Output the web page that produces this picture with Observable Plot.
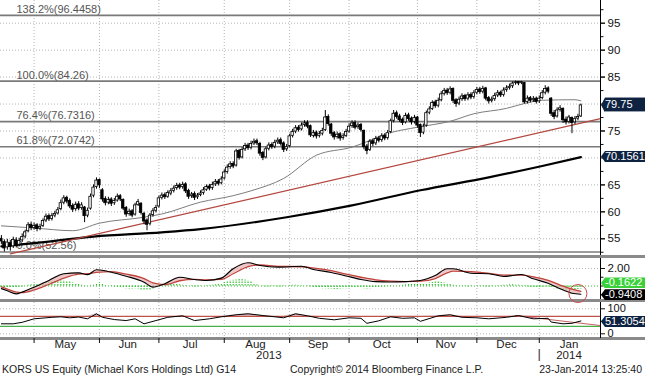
<!DOCTYPE html>
<html><head><meta charset="utf-8">
<script src="https://cdn.jsdelivr.net/npm/d3@7"></script>
<script src="https://cdn.jsdelivr.net/npm/@observablehq/plot@0.6"></script>
<style>
body{margin:0;background:#fff;}
#wrap{position:relative;width:645px;height:376px;overflow:hidden;background:#fff;font-family:"Liberation Sans Narrow","Liberation Sans",Arial,sans-serif;}
#wrap svg{position:absolute;left:0;overflow:visible;}
.sep{position:absolute;left:0;width:645px;height:3px;background:#8a8a8a;}
.foot{position:absolute;top:363px;font-size:10.5px;line-height:13px;color:#1a1a1a;white-space:nowrap;}
.tag{position:absolute;left:601px;width:44px;height:11px;line-height:11px;font-size:11px;padding-left:4px;box-sizing:border-box;clip-path:polygon(4px 0,100% 0,100% 100%,4px 100%,0 50%);white-space:nowrap;overflow:hidden;}
</style></head>
<body><div id="wrap"></div>
<script>
// ---------- categories ----------
const startDate = "2013-04-16", axisEndDate = "2014-01-31";
const holidays = ["2013-05-27","2013-07-04","2013-09-02","2013-11-28","2013-12-25","2014-01-01","2014-01-20"];

// ---------- daily OHLC (KORS) ----------
const open = [55.0,54.4,53.4,54.2,53.6,54.7,53.9,54.7,55.4,56.4,
57.6,57.0,57.5,56.9,57.4,58.4,59.2,58.7,59.3,59.7,
60.5,61.7,62.6,62.0,61.1,60.5,61.4,60.7,60.8,59.3,
60.6,63.0,64.6,65.9,64.0,62.4,61.7,62.3,61.6,62.1,
62.9,62.2,60.7,59.6,60.1,59.5,61.3,61.5,59.6,58.4,
57.8,59.4,60.2,61.0,62.6,63.1,62.8,63.4,63.9,64.4,
64.9,64.6,65.1,63.9,62.9,63.3,62.7,63.1,63.5,64.1,
64.7,64.4,65.1,65.6,65.3,66.2,67.4,68.3,68.9,68.6,
71.3,70.1,71.6,72.3,71.9,72.7,73.1,72.6,70.9,70.1,
71.7,72.4,72.1,72.9,73.3,72.7,71.6,72.2,74.1,74.9,
75.6,75.3,76.1,76.5,75.9,74.1,74.7,74.1,74.5,75.2,
77.6,76.2,74.6,73.9,74.4,73.7,74.1,74.9,75.9,76.5,
75.7,76.1,75.0,72.1,71.5,73.1,72.7,73.6,73.3,74.1,
73.7,74.8,76.9,78.3,77.7,77.1,76.6,77.9,77.3,76.7,
77.5,76.1,74.7,76.0,78.4,79.1,80.3,79.7,80.7,81.9,
82.5,82.1,82.8,80.7,80.1,80.9,81.5,81.0,81.7,81.3,
82.1,82.7,82.3,82.9,81.1,80.6,80.9,81.6,82.1,81.7,
82.6,83.0,83.3,83.9,84.1,83.9,83.9,80.4,81.1,80.7,
81.0,80.5,81.1,82.1,82.9,81.0,78.3,77.7,78.9,79.1,
77.1,76.7,77.4,76.6,77.3,77.7];
const high = [55.6,54.8,54.9,54.7,55.3,55.2,55.1,55.9,56.6,58.0,
58.1,57.9,57.8,57.7,58.7,59.6,59.6,59.7,60.1,60.8,
62.2,63.0,62.9,62.4,61.5,61.8,61.9,61.7,61.0,60.7,
63.3,65.0,66.3,66.1,64.3,62.8,62.7,62.6,62.5,63.3,
63.2,62.4,61.0,60.5,60.4,61.6,62.3,61.7,59.9,58.7,
59.7,60.6,61.2,62.9,63.5,63.5,63.9,64.3,64.8,65.3,
65.3,65.5,65.4,64.2,63.6,63.7,63.4,63.9,64.5,65.0,
65.1,65.5,66.0,66.0,66.5,67.8,68.7,69.3,69.3,71.6,
71.6,71.9,72.7,72.7,73.1,73.5,73.5,72.9,71.2,72.0,
72.8,72.8,73.3,73.7,73.7,73.0,72.5,74.4,75.3,76.0,
76.0,76.5,76.9,76.9,76.1,75.1,75.0,74.9,75.5,78.8,
78.0,76.4,74.9,74.8,74.7,74.5,75.3,76.3,76.9,76.9,
76.5,76.4,75.2,72.5,73.4,73.5,74.0,74.0,74.5,74.5,
75.1,77.2,78.8,78.7,78.1,77.4,78.3,78.3,77.6,77.9,
77.7,76.3,76.3,78.7,79.5,80.6,80.7,81.1,82.3,82.9,
82.9,83.2,83.0,81.0,81.3,81.9,81.8,82.1,82.1,82.5,
83.1,83.1,83.3,83.1,81.4,81.3,82.0,82.5,82.4,83.0,
83.4,83.7,84.1,84.26,84.2,84.2,84.0,81.5,81.4,81.4,
81.3,81.5,82.5,83.4,83.2,81.2,78.8,79.3,79.7,79.3,
77.6,77.9,77.6,77.7,78.1,80.0];
const low = [53.9,52.56,52.9,52.7,53.2,53.3,53.5,54.3,55.0,56.1,
56.5,56.6,56.3,56.5,57.1,58.0,58.2,58.3,58.9,59.4,
60.2,61.3,61.5,60.6,59.9,60.1,60.2,60.3,58.0,58.9,
60.3,62.6,64.2,64.3,61.8,61.1,61.3,61.0,61.2,61.8,
61.9,60.2,59.0,59.2,58.9,59.2,61.0,59.4,57.6,56.5,
57.4,59.0,59.8,60.7,62.2,62.3,62.5,63.0,63.5,64.0,
64.1,64.2,63.4,62.3,62.5,62.1,62.3,62.8,63.1,63.8,
63.9,64.0,64.7,64.8,65.0,65.9,67.0,67.9,68.0,68.3,
69.6,69.8,71.2,71.4,71.5,72.3,72.3,70.3,69.5,69.8,
71.3,71.6,71.7,72.5,72.2,71.0,71.2,71.9,73.7,74.5,
74.8,75.0,75.7,75.4,73.8,73.7,73.5,73.7,74.1,74.9,
75.9,74.0,73.3,73.5,73.1,73.3,73.8,74.6,75.5,75.2,
75.3,74.8,71.5,70.6,71.2,72.1,72.3,72.8,72.9,73.2,
73.3,74.5,76.5,77.2,76.6,76.0,76.3,76.8,76.1,76.3,
75.5,73.8,74.3,75.7,78.0,78.8,79.2,79.3,80.4,81.5,
81.6,81.7,80.1,79.4,79.7,80.5,80.5,80.6,80.8,80.9,
81.7,81.8,81.9,80.6,80.0,80.2,80.5,81.2,81.2,81.3,
82.2,82.6,82.9,83.5,83.4,83.6,80.0,80.0,80.2,80.3,
80.0,80.1,80.8,81.7,81.9,77.7,77.1,77.4,78.5,76.4,
76.1,76.3,74.5,76.2,76.9,77.5];
const close = [54.5,53.2,54.3,53.5,54.8,53.8,54.6,55.3,56.2,57.5,
57.0,57.4,56.8,57.2,58.3,59.1,58.6,59.2,59.6,60.3,
61.6,62.5,61.9,61.0,60.4,61.3,60.6,61.2,59.2,60.2,
62.8,64.5,65.8,64.9,62.3,61.6,62.2,61.5,62.0,62.8,
62.3,60.6,59.5,60.0,59.3,61.2,61.8,59.8,58.2,57.6,
59.3,60.1,60.7,62.5,63.0,62.7,63.5,63.8,64.3,64.8,
64.5,65.0,63.8,62.8,63.2,62.6,63.0,63.4,64.0,64.6,
64.3,65.0,65.5,65.2,66.0,67.3,68.2,68.8,68.4,71.2,
70.0,71.5,72.2,71.8,72.6,73.0,72.7,70.8,70.0,71.6,
72.3,72.0,72.8,73.2,72.6,71.5,72.0,74.0,74.8,75.5,
75.2,76.0,76.4,75.8,74.2,74.6,74.0,74.4,75.0,77.5,
76.3,74.5,73.8,74.3,73.6,74.0,74.8,75.8,76.4,75.6,
76.0,75.2,72.0,71.3,73.0,72.6,73.5,73.2,74.0,73.6,
74.6,76.8,78.2,77.6,77.0,76.5,77.8,77.2,76.6,77.4,
76.0,74.6,75.8,78.3,79.0,80.2,79.6,80.6,81.8,82.4,
82.0,82.7,80.6,80.0,80.8,81.4,80.9,81.6,81.2,82.0,
82.6,82.2,82.8,81.0,80.5,80.8,81.5,82.0,81.6,82.5,
82.9,83.2,83.8,84.0,83.8,84.1,80.3,81.0,80.6,80.9,
80.4,81.0,82.0,82.8,82.3,78.2,77.6,78.8,79.2,77.0,
76.6,77.5,76.5,77.2,77.6,79.75];

// ---------- overlays (trading-day index, value) ----------
const ma50Idx = [0,11,24,33,48,54,67,78,84,95,106,118,131,140,151,159,170,176,182,193,195];
const ma50    = [57.4,57.0,56.5,57.9,59.0,59.6,61.8,63.0,63.9,66.2,70.5,72.0,74.7,75.7,76.8,78.2,79.2,80.1,80.7,80.8,80.6];
const ma200Idx = [0,11,31,54,67,96,118,141,164,182,195];
const ma200    = [53.6,54.2,55.4,56.2,56.8,59.0,61.2,64.0,66.4,68.5,70.1561];
const trendIdx = [3,201.6];
const trendVal = [52.2,77.3];
const fibPct = ["138.2%","100.0%","76.4%","61.8%","0.0%"];
const fibVal = [96.4458,84.26,76.7316,72.0742,52.56];
const priceLabelTicks = [55,60,65,75,85,90,95];   // 70 and 80 sit under the value tags
const priceTicks = [55,60,65,70,75,80,85,90,95];
const priceMinor = [52.5,57.5,62.5,67.5,72.5,77.5,82.5,87.5,92.5,97.5];

// ---------- MACD panel ----------
const macdIdx = [0,2,5,7,11,16,21,26,29,32,37,42,48,51,55,60,65,69,74,78,83,87,93,101,105,111,116,121,126,131,136,141,146,150,152,158,164,169,175,179,184,188,192,195];
const macd   = [-0.3,-0.55,-0.9,-0.7,-0.13,0.63,1.4,1.5,1.3,1.85,1.58,1.12,0.44,-0.13,0.25,1.0,0.74,0.63,0.9,1.97,2.65,2.34,2.15,2.26,1.89,1.55,1.15,0.75,0.5,0.45,0.5,0.63,1.2,1.97,1.97,1.46,1.4,1.09,1.31,0.82,0.32,-0.32,-0.82,-0.94];
const signal = [-0.1,-0.35,-0.7,-0.75,-0.45,0.2,0.9,1.35,1.4,1.55,1.65,1.35,0.85,0.35,0.15,0.6,0.75,0.7,0.75,1.4,2.2,2.4,2.25,2.2,2.05,1.75,1.35,1.0,0.7,0.55,0.5,0.55,0.85,1.5,1.7,1.65,1.45,1.25,1.25,1.05,0.65,0.1,-0.35,-0.6];
const hist = [-0.15,-0.2,-0.2,-0.25,-0.2,-0.2,
-0.15,-0.1,0,
0.1,0.15,0.2,0.25,0.3,0.35,0.4,0.45,0.5,0.55,0.6,
0.65,0.6,0.55,0.45,0.35,0.3,0.2,0.1,
0.05,0,0.05,0.1,
0.3,0.35,0.2,
0.05,0,-0.05,
-0.1,-0.15,-0.2,-0.25,-0.3,-0.35,-0.35,-0.3,-0.35,-0.45,-0.5,-0.55,-0.5,-0.35,-0.2,
-0.05,0.05,0.1,0.15,0.2,0.25,0.2,0.15,
0.1,0.05,0,-0.05,-0.1,-0.1,-0.05,0,0.05,0.05,0.1,0.15,
0.2,0.3,0.4,0.5,0.6,0.65,0.7,0.75,0.75,0.7,0.6,0.45,0.3,0.15,
0,-0.05,-0.1,-0.1,-0.05,-0.05,-0.1,-0.1,-0.05,
0,0.05,0.1,0.1,0.05,0.05,0,-0.05,-0.1,
-0.15,-0.2,-0.25,-0.3,-0.3,-0.35,-0.35,-0.4,-0.4,-0.35,-0.3,-0.3,-0.25,-0.25,-0.2,-0.2,-0.25,-0.3,-0.35,-0.3,-0.25,-0.2,-0.15,-0.1,-0.1,-0.05,-0.05,0,0,0.05,0.1,
0.15,0.2,0.25,0.25,0.2,0.2,0.25,0.3,0.35,0.4,0.45,0.45,0.4,0.35,0.3,0.2,0.1,0.05,
0,-0.05,-0.05,-0.1,-0.05,0,0,-0.05,-0.05,-0.1,-0.1,-0.05,
0,0.05,0.05,0.1,0.1,0.15,0.15,0.1,0.1,0.05,
-0.05,-0.1,-0.15,-0.15,-0.2,-0.2,-0.15,-0.1,-0.1,-0.2,-0.3,-0.35,-0.4,-0.45,-0.5,-0.5,-0.5,-0.45,-0.4,-0.35];
const macdTicks = [2];
const macdMinor = [1,0,-1];
const circleIdx = [194], circleVal = [-0.86];

// ---------- RSI panel ----------
const rsiIdx = [0,4,7,11,17,20,23,26,29,32,34,38,42,45,48,52,56,61,65,70,74,79,83,88,92,95,99,103,107,112,117,121,123,127,131,135,139,141,147,151,155,160,164,170,174,179,184,185,189,192,195];
const rsi    = [40,40,46,60,66,68,64,67,60,80,66,57,53,60,40,53,66,72,53,60,68,76,80,73,68,64,80,72,62,56,64,62,42,52,68,62,64,50,72,76,66,64,60,66,73,60,62,47,40,42,51.3054];
const rsiTrendIdx = [173,201.6], rsiTrendVal = [73,33];
const rsiBands = [70,30];
const rsiTicks = [100, 0];

// ---------- last-value tags ----------
const lastPrice = 79.75, lastMA200 = 70.1561, lastMacd = -0.9408, lastSignal = -0.1622, lastRsi = 51.3054;

// ---------- build ----------
const fmt = d3.utcFormat("%Y-%m-%d");
const days = d3.utcDay.range(new Date(startDate), d3.utcDay.offset(new Date(axisEndDate), 1))
  .filter(d => d.getUTCDay() % 6 !== 0 && !holidays.includes(fmt(d)));
const xDomain = [-0.3, days.length - 1 + 0.6];
const dayIdx = days.map((d, i) => ({d, i}));
const months = d3.groups(dayIdx, e => d3.utcFormat("%Y-%m")(e.d))
  .map(([k, v]) => ({name: d3.utcFormat("%b")(v[0].d), start: v[0].i, mid: d3.mean(v, e => e.i)}))
  .filter(m => m.start > 0);
const monthStarts = months.map(m => m.start);
const years = d3.groups(dayIdx, e => e.d.getUTCFullYear())
  .map(([k, v]) => ({name: String(k), start: v[0].i, mid: d3.mean(v, e => e.i)}));
const yearBreaks = years.filter(y => y.start > 0).map(y => y.start);

const bars = close.map((c, i) => ({i, o: open[i], h: high[i], l: low[i], c}));
const pts = (idx, val) => idx.map((i, k) => ({i, v: val[k]}));
const fibs = fibVal.map((v, k) => ({v, label: `${fibPct[k]}(${v})`}));
const macdPts = macdIdx.map((i, k) => ({i, m: macd[k], s: signal[k]}));
const histPts = hist.map((v, i) => ({i, v}));
const rsiPts = pts(rsiIdx, rsi);

const FONT = '"Liberation Sans Narrow","Liberation Sans",Arial,sans-serif';
const style = {background: "transparent", fontFamily: FONT, fontSize: "11.5px", color: "#111", overflow: "visible"};
const dotted = {stroke: "#b5b5b5", strokeDasharray: "1,2"};

const wrap = document.getElementById("wrap");
function place(el, top) { el.style.top = top + "px"; wrap.appendChild(el); return el; }
function sep(top) { const d = document.createElement("div"); d.className = "sep"; d.style.top = top + "px"; wrap.appendChild(d); }

sep(255); sep(299); sep(337);

// Panel 1: price
const p1 = Plot.plot({
  width: 645, height: 255, marginLeft: 0, marginRight: 45, marginTop: 0, marginBottom: 0,
  x: {domain: xDomain, axis: null, label: null},
  y: {domain: [51.9, 99.21], label: null},
  style,
  marks: [
    Plot.ruleY(priceTicks, dotted),
    Plot.ruleX(monthStarts, dotted),
    Plot.ruleY(fibs, {y: "v", stroke: "#7a7a7a", strokeWidth: 1.6}),
    Plot.text(fibs, {x: xDomain[0], y: "v", text: "label", dx: 16, dy: -6, textAnchor: "start", fill: "#555", fontSize: 11}),
    Plot.line(pts(ma200Idx, ma200), {x: "i", y: "v", stroke: "#000", strokeWidth: 2.2, curve: "monotone-x"}),
    Plot.line(pts(trendIdx, trendVal), {x: "i", y: "v", stroke: "#b4473f", strokeWidth: 1.2}),
    Plot.line(pts(ma50Idx, ma50), {x: "i", y: "v", stroke: "#7d7d7d", strokeWidth: 1, curve: "monotone-x"}),
    Plot.ruleX(bars, {x: "i", y1: "l", y2: "h", stroke: "#000", strokeWidth: 1}),
    Plot.rect(bars, {x1: d => d.i - 0.4, x2: d => d.i + 0.4, y1: "o", y2: "c",
      fill: d => d.c >= d.o ? "#fff" : "#000", stroke: "#000", strokeWidth: 0.8}),
    Plot.ruleX([xDomain[1]], {stroke: "#000"}),
    Plot.axisY({anchor: "right", ticks: priceMinor, tickSize: 2.5, tickFormat: () => "", label: null}),
    Plot.axisY({anchor: "right", ticks: priceTicks, tickSize: 4, tickFormat: () => "", label: null}),
    Plot.axisY({anchor: "right", ticks: priceLabelTicks, tickSize: 4, tickPadding: 3, tickFormat: d => String(d), label: null})
  ]
});
place(p1, 0);

// Panel 2: MACD
const p2 = Plot.plot({
  width: 645, height: 41, marginLeft: 0, marginRight: 45, marginTop: 0, marginBottom: 0,
  x: {domain: xDomain, axis: null, label: null},
  y: {domain: [-1.54, 3.14], label: null},
  style,
  marks: [
    Plot.ruleY(macdTicks, dotted),
    Plot.ruleX(monthStarts, dotted),
    Plot.ruleY([0], {stroke: "#3cb83c", strokeDasharray: "1,2"}),
    Plot.ruleX(histPts, {x: "i", y1: 0, y2: "v", stroke: "#22c022", strokeWidth: 1.1, strokeDasharray: "1.5,1"}),
    Plot.areaY(macdPts, {x: "i", y1: "m", y2: "s", fill: "#e7b0b0", fillOpacity: 0.7, curve: "monotone-x"}),
    Plot.line(macdPts, {x: "i", y: "s", stroke: "#c0443c", strokeWidth: 1.3, curve: "monotone-x"}),
    Plot.line(macdPts, {x: "i", y: "m", stroke: "#000", strokeWidth: 1.1, curve: "monotone-x"}),
    Plot.dot(pts(circleIdx, circleVal), {x: "i", y: "v", r: 9, stroke: "#d04848", strokeWidth: 1}),
    Plot.ruleX([xDomain[1]], {stroke: "#000"}),
    Plot.axisY({anchor: "right", ticks: macdMinor, tickSize: 2.5, tickFormat: () => "", label: null}),
    Plot.axisY({anchor: "right", ticks: macdTicks, tickSize: 4, tickPadding: 3, tickFormat: d3.format(".2f"), label: null})
  ]
});
place(p2, 258);

// Panel 3: RSI + time axis
const p3 = Plot.plot({
  width: 645, height: 66, marginLeft: 0, marginRight: 45, marginTop: 0, marginBottom: 30,
  x: {domain: xDomain, label: null},
  y: {domain: [-18.8, 125.2], label: null},
  style,
  marks: [
    Plot.ruleY(rsiTicks, dotted),
    Plot.ruleX(monthStarts, dotted),
    Plot.areaY(rsiPts, {x: "i", y1: rsiBands[0], y2: d => Math.max(d.v, rsiBands[0]), fill: "#c9a0a0", fillOpacity: 0.8}),
    Plot.ruleY([rsiBands[0]], {stroke: "#c0504a", strokeWidth: 1.2}),
    Plot.ruleY([rsiBands[1]], {stroke: "#49b049", strokeWidth: 1.2}),
    Plot.line(pts(rsiTrendIdx, rsiTrendVal), {x: "i", y: "v", stroke: "#c46060", strokeWidth: 1}),
    Plot.line(rsiPts, {x: "i", y: "v", stroke: "#000", strokeWidth: 1}),
    Plot.ruleX([xDomain[1]], {stroke: "#000"}),
    Plot.axisY({anchor: "right", ticks: [50], tickSize: 2.5, tickFormat: () => "", label: null}),
    Plot.axisY({anchor: "right", ticks: rsiTicks, tickSize: 4, tickPadding: 3, fontSize: 11, tickFormat: d => String(d), label: null}),
    Plot.axisX({anchor: "bottom", ticks: monthStarts, tickSize: 5, tickFormat: () => "", label: null}),
    Plot.text(months, {x: "mid", text: "name", frameAnchor: "bottom", dy: 9, fill: "#222", fontSize: 11.5}),
    Plot.text(years, {x: "mid", text: "name", frameAnchor: "bottom", dy: 20, fill: "#222", fontSize: 11.5}),
    Plot.text(yearBreaks, {x: d => d, text: () => "|", frameAnchor: "bottom", dy: 19, fill: "#333", fontSize: 13})
  ]
});
place(p3, 302);

// last-value tags positioned through the plots' own scales
function tag(plot, top, v, text, bg, color, extra, shift = 0) {
  const d = document.createElement("div");
  d.className = "tag"; d.textContent = text;
  const y = top + plot.scale("y").apply(v) + shift;
  d.style.top = (y - 5.5) + "px"; d.style.background = bg; d.style.color = color;
  if (extra) Object.assign(d.style, extra);
  wrap.appendChild(d);
}
tag(p1, 0, lastPrice, String(lastPrice), "#0e2341", "#fff", {height: "15px", lineHeight: "13px", borderTop: "1px solid #9aa3ad", borderBottom: "1px solid #9aa3ad", marginTop: "-2px"});
tag(p1, 0, lastMA200, String(lastMA200), "#0e2341", "#fff");
tag(p2, 258, lastSignal, String(lastSignal), "#39d039", "#fff", null, -4);
tag(p2, 258, lastMacd, String(lastMacd), "#000", "#fff", null, 1);
tag(p3, 302, lastRsi, String(lastRsi), "#0e2341", "#fff", null, 1);

// footer
function foot(text, pos) {
  const d = document.createElement("div"); d.className = "foot"; d.textContent = text;
  Object.assign(d.style, pos); wrap.appendChild(d);
}
foot("KORS US Equity (Michael Kors Holdings Ltd) G14", {left: "2px"});
foot("Copyright\u00a9 2014 Bloomberg Finance L.P.", {left: "290px"});
foot("23-Jan-2014 13:25:40", {right: "3px"});
</script></body></html>
